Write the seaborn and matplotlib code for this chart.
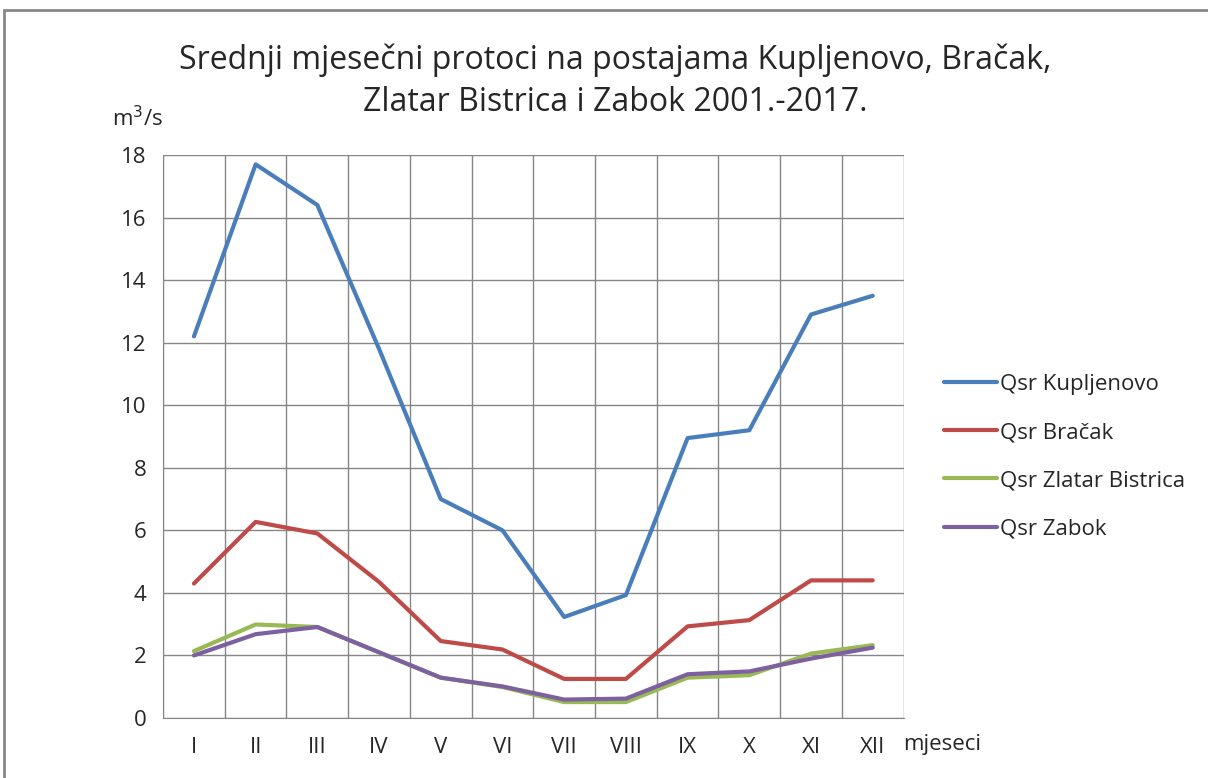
import pandas as pd
import matplotlib.pyplot as plt
import seaborn as sns
from matplotlib.patches import Rectangle

months = ['I', 'II', 'III', 'IV', 'V', 'VI', 'VII', 'VIII', 'IX', 'X', 'XI', 'XII']
kupljenovo = [12.2, 17.7, 16.4, 11.8, 7.0, 6.0, 3.23, 3.93, 8.95, 9.2, 12.9, 13.5]
bracak = [4.3, 6.27, 5.9, 4.35, 2.46, 2.19, 1.25, 1.25, 2.93, 3.13, 4.4, 4.4]
zlatar = [2.14, 2.99, 2.91, 2.1, 1.29, 0.99, 0.51, 0.51, 1.29, 1.37, 2.06, 2.33]
zabok = [2.0, 2.68, 2.91, 2.1, 1.29, 1.01, 0.59, 0.62, 1.4, 1.49, 1.9, 2.25]
series = ['Qsr Kupljenovo', 'Qsr Bračak', 'Qsr Zlatar Bistrica', 'Qsr Zabok']
colors = ['#4A7EBB', '#BE4B48', '#98B954', '#7D60A0']

rows = []
for name, vals in zip(series, [kupljenovo, bracak, zlatar, zabok]):
    for i, v in enumerate(vals):
        rows.append({'mjesec': i, 'Q': v, 'postaja': name})
df = pd.DataFrame(rows)

sns.set_style('white')
plt.rcParams['font.family'] = ['Open Sans', 'DejaVu Sans']

fig = plt.figure(figsize=(12.08, 7.78), dpi=100)
ax = fig.add_axes([0.135, 0.0771, 0.613, 0.7237])

sns.lineplot(data=df, x='mjesec', y='Q', hue='postaja', hue_order=series,
             palette=colors, linewidth=3, ax=ax)

ax.set_xlim(-0.5, 11.5)
ax.set_ylim(0, 18)
ax.set_yticks(range(0, 19, 2))
ax.set_xticks(range(12))
ax.set_xticklabels(months)
ax.set_xticks([i - 0.5 for i in range(13)], minor=True)
ax.tick_params(axis='x', which='major', length=0, pad=14, labelsize=16)
ax.tick_params(axis='x', which='minor', length=10, color='#868686', width=1, direction='out')
ax.tick_params(axis='y', length=6, color='#868686', width=1, direction='out', labelsize=16, pad=6)
ax.grid(axis='y', color='#868686', linewidth=1)
ax.grid(axis='x', which='minor', color='#868686', linewidth=1)
ax.set_axisbelow(True)
for s in ['top', 'right']:
    ax.spines[s].set_visible(False)
for s in ['left', 'bottom']:
    ax.spines[s].set_color('#868686')
ax.set_xlabel('')
ax.set_ylabel('')

fig.text(0.093, 0.848, 'm$^3$/s', fontsize=16, ha='left', va='center')
fig.text(0.748, 0.043, 'mjeseci', fontsize=16, ha='left', va='center')

fig.text(0.509, 0.896, 'Srednji mjesečni protoci na postajama Kupljenovo, Bračak,\nZlatar Bistrica i Zabok 2001.-2017.',
         fontsize=23, ha='center', va='center', linespacing=1.35)

ax.legend(loc='upper left', bbox_to_anchor=(0.765, 0.545), bbox_transform=fig.transFigure,
          frameon=False, fontsize=16, handlelength=2.4, handletextpad=0.1, labelspacing=1.22)

fig.patches.append(Rectangle((0.0035, -0.1), 1.1, 1.087, transform=fig.transFigure,
                             fill=False, edgecolor='#878787', linewidth=2))

fig.savefig('out.png', dpi=100)
